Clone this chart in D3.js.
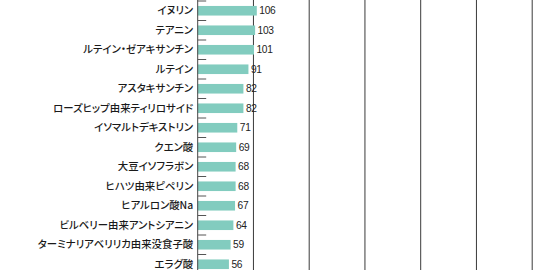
<!DOCTYPE html>
<html>
<head>
<meta charset="utf-8">
<script src="https://cdn.jsdelivr.net/npm/d3@7"></script>
<style>
  html, body { margin: 0; padding: 0; background: #fff; }
  svg { display: block; }
  .cat { font-feature-settings: 'palt' 1; }
</style>
</head>
<body>
<div id="chart"></div>
<script>
var categories = [
    'イヌリン', 'テアニン', 'ルテイン・ゼアキサンチン', 'ルテイン', 'アスタキサンチン',
    'ローズヒップ由来ティリロサイド', 'イソマルトデキストリン', 'クエン酸', '大豆イソフラボン',
    'ヒハツ由来ピペリン', 'ヒアルロン酸Na', 'ビルベリー由来アントシアニン',
    'ターミナリアベリリカ由来没食子酸', 'エラグ酸'
];
var values = [106, 103, 101, 91, 82, 82, 71, 69, 68, 68, 67, 64, 59, 56];
var gridTicks = [100, 200, 300, 400, 500, 600];

var W = 550, H = 270;

var svg = d3.select('#chart').append('svg')
    .attr('width', W)
    .attr('height', H);

var x = d3.scaleLinear().domain([0, 600]).range([197.7, 532.2]);
var band = d3.scaleBand().domain(categories).range([1, 1 + categories.length * 19.5]);
var barH = 9.6;

// grid lines
svg.append('g')
    .selectAll('line')
    .data(gridTicks)
    .join('line')
    .attr('x1', function (d) { return x(d); })
    .attr('x2', function (d) { return x(d); })
    .attr('y1', 0)
    .attr('y2', H)
    .attr('stroke', '#3a3a3a')
    .attr('stroke-width', 1);

// bars
svg.append('g')
    .selectAll('rect')
    .data(values)
    .join('rect')
    .attr('x', x(0))
    .attr('y', function (d, i) { return band(categories[i]) + (band.bandwidth() - barH) / 2; })
    .attr('width', function (d) { return x(d) - x(0); })
    .attr('height', barH)
    .attr('fill', '#82ccbf');

// value labels
svg.append('g')
    .selectAll('text')
    .data(values)
    .join('text')
    .attr('x', function (d) { return x(d) + 2.5; })
    .attr('y', function (d, i) { return band(categories[i]) + band.bandwidth() / 2; })
    .attr('dy', '0.36em')
    .attr('font-family', 'Liberation Sans, Arial, sans-serif')
    .attr('font-size', 10.2)
    .attr('letter-spacing', -0.3)
    .attr('fill', '#222')
    .text(function (d) { return d; });

// axis with inward ticks at band boundaries
var axis = svg.append('g');
axis.append('line')
    .attr('x1', x(0)).attr('x2', x(0))
    .attr('y1', 0).attr('y2', H)
    .attr('stroke', '#444').attr('stroke-width', 1);

var bounds = d3.range(categories.length + 1).map(function (i) { return 1 + i * band.step(); });
axis.selectAll('line.tick')
    .data(bounds)
    .join('line')
    .attr('class', 'tick')
    .attr('x1', x(0)).attr('x2', x(0) + 8.5)
    .attr('y1', function (d) { return d; })
    .attr('y2', function (d) { return d; })
    .attr('stroke', '#555').attr('stroke-width', 1);

// category labels
axis.selectAll('text')
    .data(categories)
    .join('text')
    .attr('class', 'cat')
    .attr('x', x(0) - 4.5)
    .attr('y', function (d) { return band(d) + band.bandwidth() / 2; })
    .attr('dy', '0.36em')
    .attr('text-anchor', 'end')
    .attr('font-family', 'Noto Sans CJK JP, sans-serif')
    .attr('font-size', 10.4)
    .attr('font-weight', 500)
    .attr('fill', '#1a1a1a')
    .text(function (d) { return d; });
</script>
</body>
</html>
